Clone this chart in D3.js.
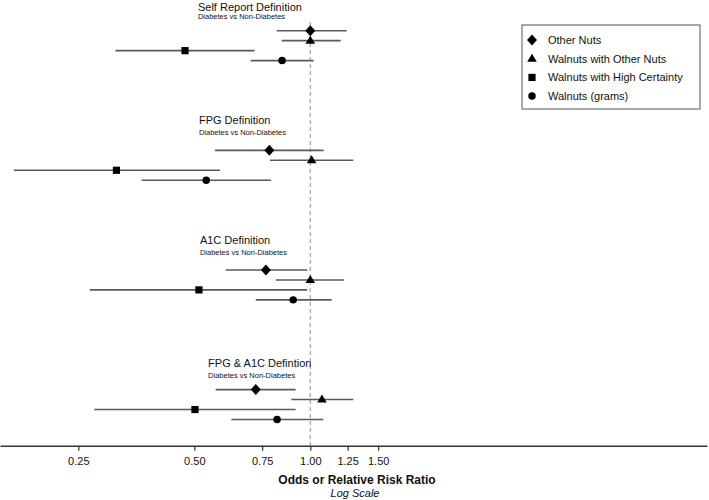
<!DOCTYPE html>
<html>
<head>
<meta charset="utf-8">
<script src="https://cdn.jsdelivr.net/npm/d3@7"></script>
<style>
  body { margin: 0; background: #fff; }
  svg { font-family: "Liberation Sans", Arial, Helvetica, sans-serif; }
</style>
</head>
<body>
<div id="chart"></div>
<script>
// Data
const groups = ["Self Report Definition", "FPG Definition", "A1C Definition", "FPG & A1C Defintion"];
const subtitle = "Diabetes vs Non-Diabetes";
const series = ["Other Nuts", "Walnuts with Other Nuts", "Walnuts with High Certainty", "Walnuts (grams)"];
const estimate = [
    [1.00, 1.00, 0.473, 0.845],
    [0.783, 1.008, 0.314, 0.537],
    [0.767, 1.00, 0.514, 0.903],
    [0.722, 1.072, 0.502, 0.820]
];
const lower = [
    [0.818, 0.843, 0.312, 0.70],
    [0.566, 0.786, 0.170, 0.365],
    [0.603, 0.813, 0.268, 0.722],
    [0.568, 0.893, 0.275, 0.624]
];
const upper = [
    [1.243, 1.199, 0.717, 1.02],
    [1.083, 1.293, 0.583, 0.791],
    [0.982, 1.223, 0.982, 1.136],
    [0.916, 1.293, 0.916, 1.081]
];
const tickValues = [0.25, 0.5, 0.75, 1, 1.25, 1.5];

// label placement (x on log scale, y in row units relative to group start)
const titleAt = [0.511, 0.514, 0.517, 0.543];
const titleRow = [-2.41, -3.04, -3.01, -2.64];
const subRow = [-1.44, -1.81, -1.74, -1.46];

const width = 709, height = 500;
const rowsPerGroup = 12;

const svg = d3.select("#chart").append("svg")
    .attr("width", width)
    .attr("height", height);

const x = d3.scaleLog()
    .domain([0.1566, 10.7])
    .range([0, 707]);

const y = d3.scaleLinear()
    .domain([0, 39])
    .range([30.7, 419.5]);

const axisY = 445.7;

// flatten rows
const rows = [];
groups.forEach((g, gi) => {
    series.forEach((s, si) => {
        rows.push({
            group: gi, series: si,
            pos: gi * rowsPerGroup + si,
            est: estimate[gi][si], lo: lower[gi][si], hi: upper[gi][si]
        });
    });
});

// reference line at 1
svg.append("line")
    .attr("x1", x(1)).attr("x2", x(1))
    .attr("y1", 22).attr("y2", axisY)
    .attr("stroke", "#aaa")
    .attr("stroke-width", 1.3)
    .attr("stroke-dasharray", "4,3");

// CI lines
svg.selectAll(".ci")
    .data(rows)
    .enter()
    .append("line")
    .attr("class", "ci")
    .attr("x1", d => x(d.lo))
    .attr("x2", d => x(d.hi))
    .attr("y1", d => y(d.pos))
    .attr("y2", d => y(d.pos))
    .attr("stroke", "#5a5a5a")
    .attr("stroke-width", 1.6);

// marker shapes
function markerPath(i) {
    if (i === 0) return "M0,-5.5L5,0L0,5.5L-5,0Z";
    if (i === 1) return "M0,-5L4.8,3L-4.8,3Z";
    if (i === 2) return "M-3.6,-3.6H3.6V3.6H-3.6Z";
    return d3.symbol(d3.symbolCircle, 44)();
}

svg.selectAll(".pt")
    .data(rows)
    .enter()
    .append("path")
    .attr("class", "pt")
    .attr("transform", d => `translate(${x(d.est)},${y(d.pos)})`)
    .attr("d", d => markerPath(d.series))
    .attr("fill", "#000");

// group titles
groups.forEach((g, gi) => {
    svg.append("text")
        .attr("x", x(titleAt[gi]))
        .attr("y", y(gi * rowsPerGroup + titleRow[gi]))
        .attr("dy", "0.36em")
        .attr("font-size", 11)
        .attr("fill", "#111")
        .text(g);
    svg.append("text")
        .attr("x", x(titleAt[gi]))
        .attr("y", y(gi * rowsPerGroup + subRow[gi]))
        .attr("dy", "0.36em")
        .attr("font-size", 7.5)
        .attr("fill", "#111")
        .text(subtitle);
});

// x axis
const axis = svg.append("g")
    .attr("transform", `translate(0,${axisY})`)
    .call(d3.axisBottom(x)
        .tickValues(tickValues)
        .tickFormat(d3.format(".2f"))
        .tickSize(5)
        .tickSizeOuter(0)
        .tickPadding(7));
axis.select(".domain").attr("stroke", "#333").attr("stroke-width", 1.5);
axis.selectAll(".tick line").attr("stroke", "#333").attr("stroke-width", 1.2);
axis.selectAll(".tick text")
    .attr("font-size", 11)
    .attr("fill", "#111")
    .style("font-family", "'Liberation Sans', Arial, Helvetica, sans-serif");

svg.append("text")
    .attr("x", 357)
    .attr("y", 484)
    .attr("text-anchor", "middle")
    .attr("font-size", 12)
    .attr("font-weight", "bold")
    .attr("fill", "#111")
    .text("Odds or Relative Risk Ratio");

svg.append("text")
    .attr("x", 355)
    .attr("y", 496.5)
    .attr("text-anchor", "middle")
    .attr("font-size", 11)
    .attr("font-style", "italic")
    .attr("fill", "#111")
    .text("Log Scale");

// legend
const legend = svg.append("g").attr("transform", "translate(522,25)");
legend.append("rect")
    .attr("width", 178)
    .attr("height", 84)
    .attr("fill", "#fff")
    .attr("stroke", "#555")
    .attr("stroke-width", 1);

const item = legend.selectAll(".item")
    .data(series)
    .enter()
    .append("g")
    .attr("class", "item")
    .attr("transform", (d, i) => `translate(0,${15 + i * 18.7})`);

item.append("path")
    .attr("transform", "translate(10,0)")
    .attr("d", (d, i) => markerPath(i))
    .attr("fill", "#000");

item.append("text")
    .attr("x", 26)
    .attr("dy", "0.36em")
    .attr("font-size", 11)
    .attr("fill", "#111")
    .text(d => d);
</script>
</body>
</html>
